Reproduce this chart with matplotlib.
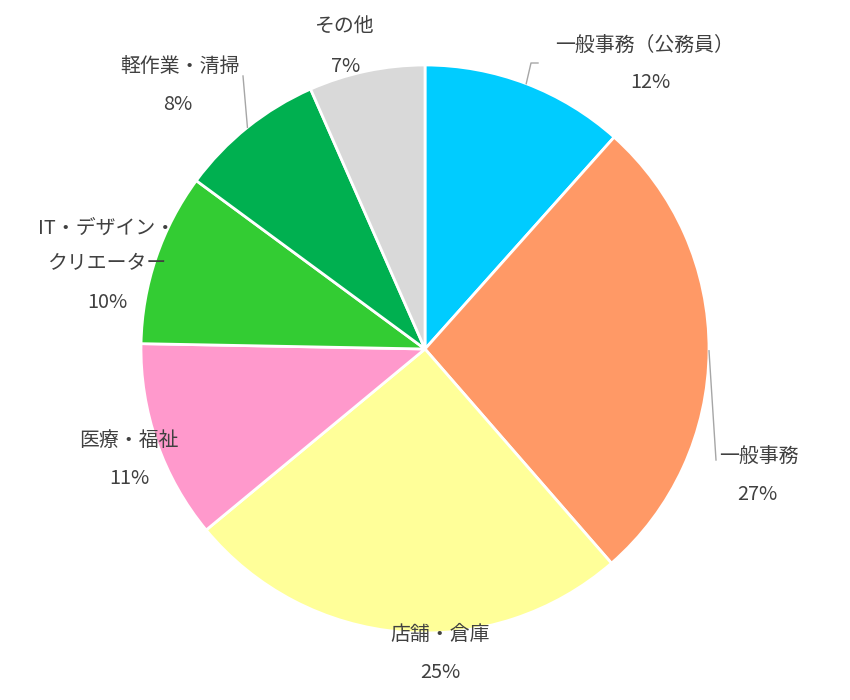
import numpy as np
import matplotlib
matplotlib.use("Agg")
import matplotlib.pyplot as plt

plt.rcParams['font.family'] = ['Noto Sans CJK JP', 'DejaVu Sans']

categories = ["一般事務（公務員）", "一般事務", "店舗・倉庫", "医療・福祉",
              "IT・デザイン・\nクリエーター", "軽作業・清掃", "その他"]
values = [11.6, 27.0, 25.4, 11.3, 9.8, 8.3, 6.6]
colors = ["#00CCFF", "#FF9966", "#FFFF99", "#FF99CC", "#33CC33", "#00B050", "#D9D9D9"]

W, H = 850, 700
CX, CY, R = 425, 349, 284

def px(x, y):
    return ((x - CX) / R, (CY - y) / R)

fig = plt.figure(figsize=(W / 100, H / 100), dpi=100)
ax = fig.add_axes([0, 0, 1, 1])

wedges, _ = ax.pie(values, colors=colors, startangle=90, counterclock=False,
                   radius=1.0, wedgeprops=dict(edgecolor='white', linewidth=2))
ax.set_aspect('auto')
ax.set_xlim(-CX / R, (W - CX) / R)
ax.set_ylim(-(H - CY) / R, CY / R)
ax.axis('off')

# label layout (pixel positions of label centre: name line / percent line)
label_pos = [(645, 45, 650, 83), (759, 456, 757, 494), (440, 634, 440, 672),
             (129, 440, 129, 479), (107, 246, 107, 302), (180, 67, 178, 105),
             (345, 27, 346, 66)]
# leader line endpoints (pixels), None if not visible
leaders = [[(531, 63), (538, 63)], [(716, 460)], None, None, None, [(243, 76)], None]

txt_color = "#404040"
for i, (w, cat, v) in enumerate(zip(wedges, categories, values)):
    nx, ny, pxx, pyy = label_pos[i]
    ax.text(*px(nx, ny), cat, ha='center', va='center', fontsize=14.3,
            color=txt_color, linespacing=1.85)
    ax.text(*px(pxx, pyy), f"{round(v)}%", ha='center', va='center',
            fontsize=14.3, color=txt_color)
    if leaders[i]:
        ang = np.deg2rad((w.theta1 + w.theta2) / 2)
        pts = [(np.cos(ang), np.sin(ang))] + [px(a, b) for a, b in leaders[i]]
        xs, ys = zip(*pts)
        ax.plot(xs, ys, color="#A6A6A6", linewidth=1)

fig.savefig("out.png", dpi=100)
